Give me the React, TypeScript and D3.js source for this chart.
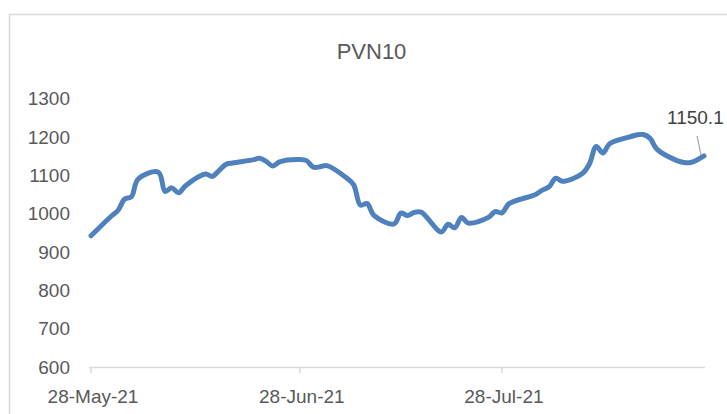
import * as d3 from 'd3';

// trading days and closing values
const dates = [
  '2021-05-28', '2021-05-31', '2021-06-01', '2021-06-02', '2021-06-03', '2021-06-04',
  '2021-06-07', '2021-06-08', '2021-06-09', '2021-06-10', '2021-06-11',
  '2021-06-14', '2021-06-15', '2021-06-16', '2021-06-17', '2021-06-18',
  '2021-06-21', '2021-06-22', '2021-06-23', '2021-06-24', '2021-06-25',
  '2021-06-28', '2021-06-29', '2021-06-30', '2021-07-01', '2021-07-02',
  '2021-07-05', '2021-07-06', '2021-07-07', '2021-07-08', '2021-07-09',
  '2021-07-12', '2021-07-13', '2021-07-14', '2021-07-15', '2021-07-16',
  '2021-07-19', '2021-07-20', '2021-07-21', '2021-07-22', '2021-07-23',
  '2021-07-26', '2021-07-27', '2021-07-28', '2021-07-29', '2021-07-30',
  '2021-08-02', '2021-08-03', '2021-08-04', '2021-08-05', '2021-08-06',
  '2021-08-09', '2021-08-10', '2021-08-11', '2021-08-12', '2021-08-13',
  '2021-08-16', '2021-08-17', '2021-08-18', '2021-08-19', '2021-08-20',
  '2021-08-23', '2021-08-24', '2021-08-25', '2021-08-26', '2021-08-27',
];

const values = [
  942, 993, 1008, 1038, 1044, 1090,
  1108, 1058, 1067, 1054, 1072,
  1103, 1097, 1112, 1128, 1132,
  1140, 1144, 1136, 1124, 1135,
  1141, 1138, 1121, 1122, 1125,
  1092, 1075, 1022, 1026, 995,
  973, 1001, 995, 1003, 1004,
  952, 972, 963, 990, 975,
  990, 1005, 1002, 1025, 1033,
  1050, 1061, 1070, 1092, 1084,
  1105, 1130, 1175, 1158, 1182,
  1200, 1205, 1206, 1196, 1168,
  1138, 1133, 1133, 1140, 1150.1,
];

const yTicks = [600, 700, 800, 900, 1000, 1100, 1200, 1300];
const xTicks = ['2021-05-28', '2021-06-28', '2021-07-28'];
const title = 'PVN10';

const W = 727;
const H = 414;
const font = '"Liberation Sans", Arial, sans-serif';
const parse = d3.timeParse('%Y-%m-%d');
const fmt = d3.timeFormat('%-d-%b-%y');

export default function App() {
  const pts = dates.map((d, i) => ({ date: parse(d) as Date, value: values[i] }));

  const x = d3
    .scaleTime()
    .domain([parse('2021-05-28') as Date, parse('2021-08-27') as Date])
    .range([91, 704]);

  const y = d3.scaleLinear().domain([600, 1300]).range([367, 98.5]);

  const line = d3
    .line<{ date: Date; value: number }>()
    .x((d) => x(d.date))
    .y((d) => y(d.value))
    .curve(d3.curveCatmullRom);

  const last = pts[pts.length - 1];
  const lx = x(last.date);
  const ly = y(last.value);

  return (
    <svg
      width={W}
      height={H}
      style={{ position: 'absolute', left: 0, top: 0, background: '#fff' }}
      fontFamily={font}
    >
      <rect x={9.5} y={14.5} width={800} height={500} fill="#fff" stroke="#d9d9d9" strokeWidth={1.5} />

      <text x={371.5} y={59} textAnchor="middle" fontSize={22} fill="#595959">
        {title}
      </text>

      {/* y axis labels */}
      {yTicks.map((t) => (
        <text key={t} x={70} y={y(t)} dy="0.35em" textAnchor="end" fontSize={19} fill="#595959">
          {t}
        </text>
      ))}

      {/* x axis */}
      <line x1={89} x2={705} y1={367.5} y2={367.5} stroke="#d9d9d9" strokeWidth={1.5} />
      {xTicks.map((t) => {
        const d = parse(t) as Date;
        return (
          <g key={t} transform={`translate(${x(d)},0)`}>
            <line y1={367.5} y2={373} stroke="#d9d9d9" strokeWidth={1.5} />
            <text x={2} y={403} textAnchor="middle" fontSize={19} fill="#595959">
              {fmt(d)}
            </text>
          </g>
        );
      })}

      <path
        d={line(pts) || ''}
        fill="none"
        stroke="#4f81bd"
        strokeWidth={5}
        strokeLinejoin="round"
        strokeLinecap="round"
      />

      {/* last value callout */}
      <line x1={lx - 7} y1={ly - 20} x2={lx - 3} y2={ly - 1} stroke="#a6a6a6" strokeWidth={1.2} />
      <text x={667} y={124} fontSize={19} fill="#404040">
        {last.value.toFixed(1)}
      </text>
    </svg>
  );
}
